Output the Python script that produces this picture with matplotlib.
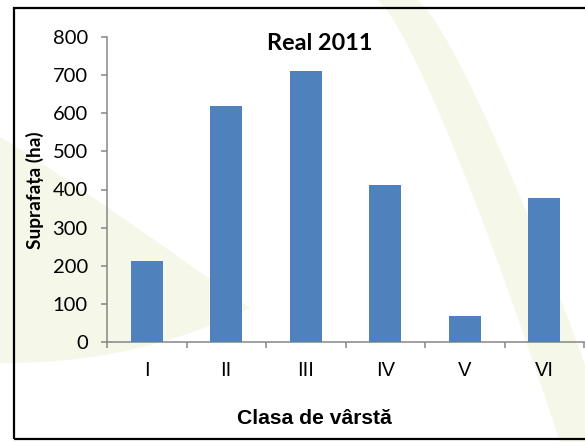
import matplotlib
matplotlib.use("Agg")
import matplotlib.pyplot as plt
from matplotlib.patches import Polygon, Rectangle
import numpy as np

categories = ["I", "II", "III", "IV", "V", "VI"]
values = [213, 620, 712, 413, 69, 378]
yticks = [0, 100, 200, 300, 400, 500, 600, 700, 800]
title = "Real 2011"
xlabel = "Clasa de vârstă"
ylabel = "Suprafața (ha)"

W, H = 585, 442
fig = plt.figure(figsize=(W / 100, H / 100), dpi=100)
fig.patch.set_facecolor("white")

def px(x, y):
    return (x / W, 1 - y / H)

wm = "#f5f7e8"
# left leaf-shaped watermark
t = np.linspace(0, 1, 40)
upper = [px(0 + 250 * s, 137 + 171 * s ** 1.05) for s in t]
lower = [px(250 - 250 * s, 308 + 55 * (1 - (1 - s) ** 2.2)) for s in t]
fig.patches.append(Polygon(upper + lower, closed=True, transform=fig.transFigure,
                           facecolor=wm, edgecolor="none", zorder=-2))
# right curved band
ys = np.linspace(0, H, 50)
left_edge = [px(378 + 182 * (y / H) ** 0.8, y) for y in ys]
right_edge = [px(418 + 195 * (y / H) ** 0.8, y) for y in ys[::-1]]
fig.patches.append(Polygon(left_edge + right_edge, closed=True, transform=fig.transFigure,
                           facecolor=wm, edgecolor="none", zorder=-2))
# outer border
fig.patches.append(Rectangle(px(13.5, 439), (600 - 13.5) / W, (439 - 7.5) / H,
                             transform=fig.transFigure, facecolor="none",
                             edgecolor="black", linewidth=1.6, zorder=-1))

ax_l, ax_r, ax_t, ax_b = 107, 584, 37, 342
ax = fig.add_axes([ax_l / W, 1 - ax_b / H, (ax_r - ax_l) / W, (ax_b - ax_t) / H])
ax.set_facecolor("none")
ax.set_zorder(2)

x = np.arange(len(categories))
ax.bar(x, values, width=0.4, color="#4f81bd", zorder=3)

ax.set_xlim(-0.5, len(categories) - 0.5)
ax.set_ylim(0, 800)

grey = "#868686"
for s in ["top", "right"]:
    ax.spines[s].set_visible(False)
for s in ["left", "bottom"]:
    ax.spines[s].set_color(grey)
    ax.spines[s].set_linewidth(1.1)

ax.set_yticks(yticks)
ax.set_yticklabels([str(v) for v in yticks], fontfamily="Lato", fontsize=14.5)
ax.tick_params(axis="y", direction="out", length=4.3, width=1.1, color=grey, pad=9.5)

ax.set_xticks(np.arange(-0.5, len(categories), 1.0))
ax.set_xticklabels([])
ax.tick_params(axis="x", which="major", direction="out", length=4.3, width=1.1, color=grey)
ax.set_xticks(x, minor=True)
ax.set_xticklabels(categories, minor=True, fontfamily="Liberation Sans", fontsize=14.5)
ax.tick_params(axis="x", which="minor", length=0, pad=14)

fig.text(320 / W, 1 - 44 / H, title, ha="center", va="center",
         fontfamily="Lato", fontweight="bold", fontsize=16.8)
fig.text(35 / W, 1 - 190 / H, ylabel, ha="center", va="center", rotation=90,
         fontfamily="Lato", fontweight="bold", fontsize=13.8)
fig.text(314 / W, 1 - 418 / H, xlabel, ha="center", va="center",
         fontfamily="Liberation Sans", fontweight="bold", fontsize=15.2)

fig.savefig("out.png", dpi=100)
